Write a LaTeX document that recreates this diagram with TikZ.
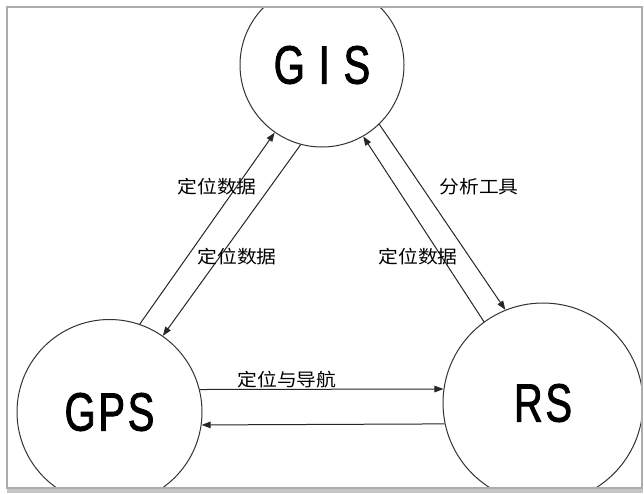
\documentclass[tikz,border=0pt]{standalone}
\usepackage{fontspec}
\setmainfont{Liberation Sans}
% condensed medium-weight face for the system names, CJK face for the flow labels
\newfontfamily\bigfont{Liberation Sans}[FakeStretch=0.74,FakeBold=1.6,LetterSpace=5]
\newfontfamily\cjkfont{Noto Sans CJK SC}[FakeStretch=1.1]
\usetikzlibrary{arrows.meta}

\begin{document}
\begin{tikzpicture}[x=1pt,y=-1pt,
  ball/.style={circle,draw=black!80,line width=1pt,inner sep=0pt,
               font=\bigfont\fontsize{54}{54}\selectfont},
  link/.style={draw=black!85,line width=1pt,-{Triangle[length=9pt,width=6.5pt]}},
  tag/.style={font=\cjkfont\fontsize{18}{18}\selectfont,inner sep=0pt}]
\useasboundingbox (0,0) rectangle (644,493);

% panel shadow along the lower edge
\fill[gray!45] (7,487) rectangle (643,493);

% the three systems, cut off by the panel edge
\begin{scope}
  \clip (7,7) rectangle (642,488);
  \fill[white] (7,7) rectangle (642,488);
  \node[ball,minimum size=164pt] (GIS) at (322,65)    {G I S};
  \node[ball,minimum size=185pt] (GPS) at (109.5,412) {GPS};
  \node[ball,minimum size=200pt] (RS)  at (543,403)   {RS};
\end{scope}

% panel border
\draw[gray!65,line width=1.2pt] (7,7) rectangle (642,488);

% data flows
\draw[link] (GPS.71.5) -- (GIS.235);
\draw[link] (GIS.255)  -- (GPS.55);
\draw[link] (GIS.314)  -- (RS.112);
\draw[link] (RS.126)   -- (GIS.300);
\draw[link] (GPS.14.4) -- (RS.172);
\draw[link] (RS.192.7) -- (GPS.-8.1);

% flow labels
\node[tag] (t1) at (217,187) {定位数据};
\node[tag] (t2) at (237,257) {定位数据};
\node[tag] (t3) at (479,187) {分析工具};
\node[tag] (t4) at (418,257) {定位数据};
\node[tag] (t5) at (287,380) {定位与导航};
\end{tikzpicture}
\end{document}
